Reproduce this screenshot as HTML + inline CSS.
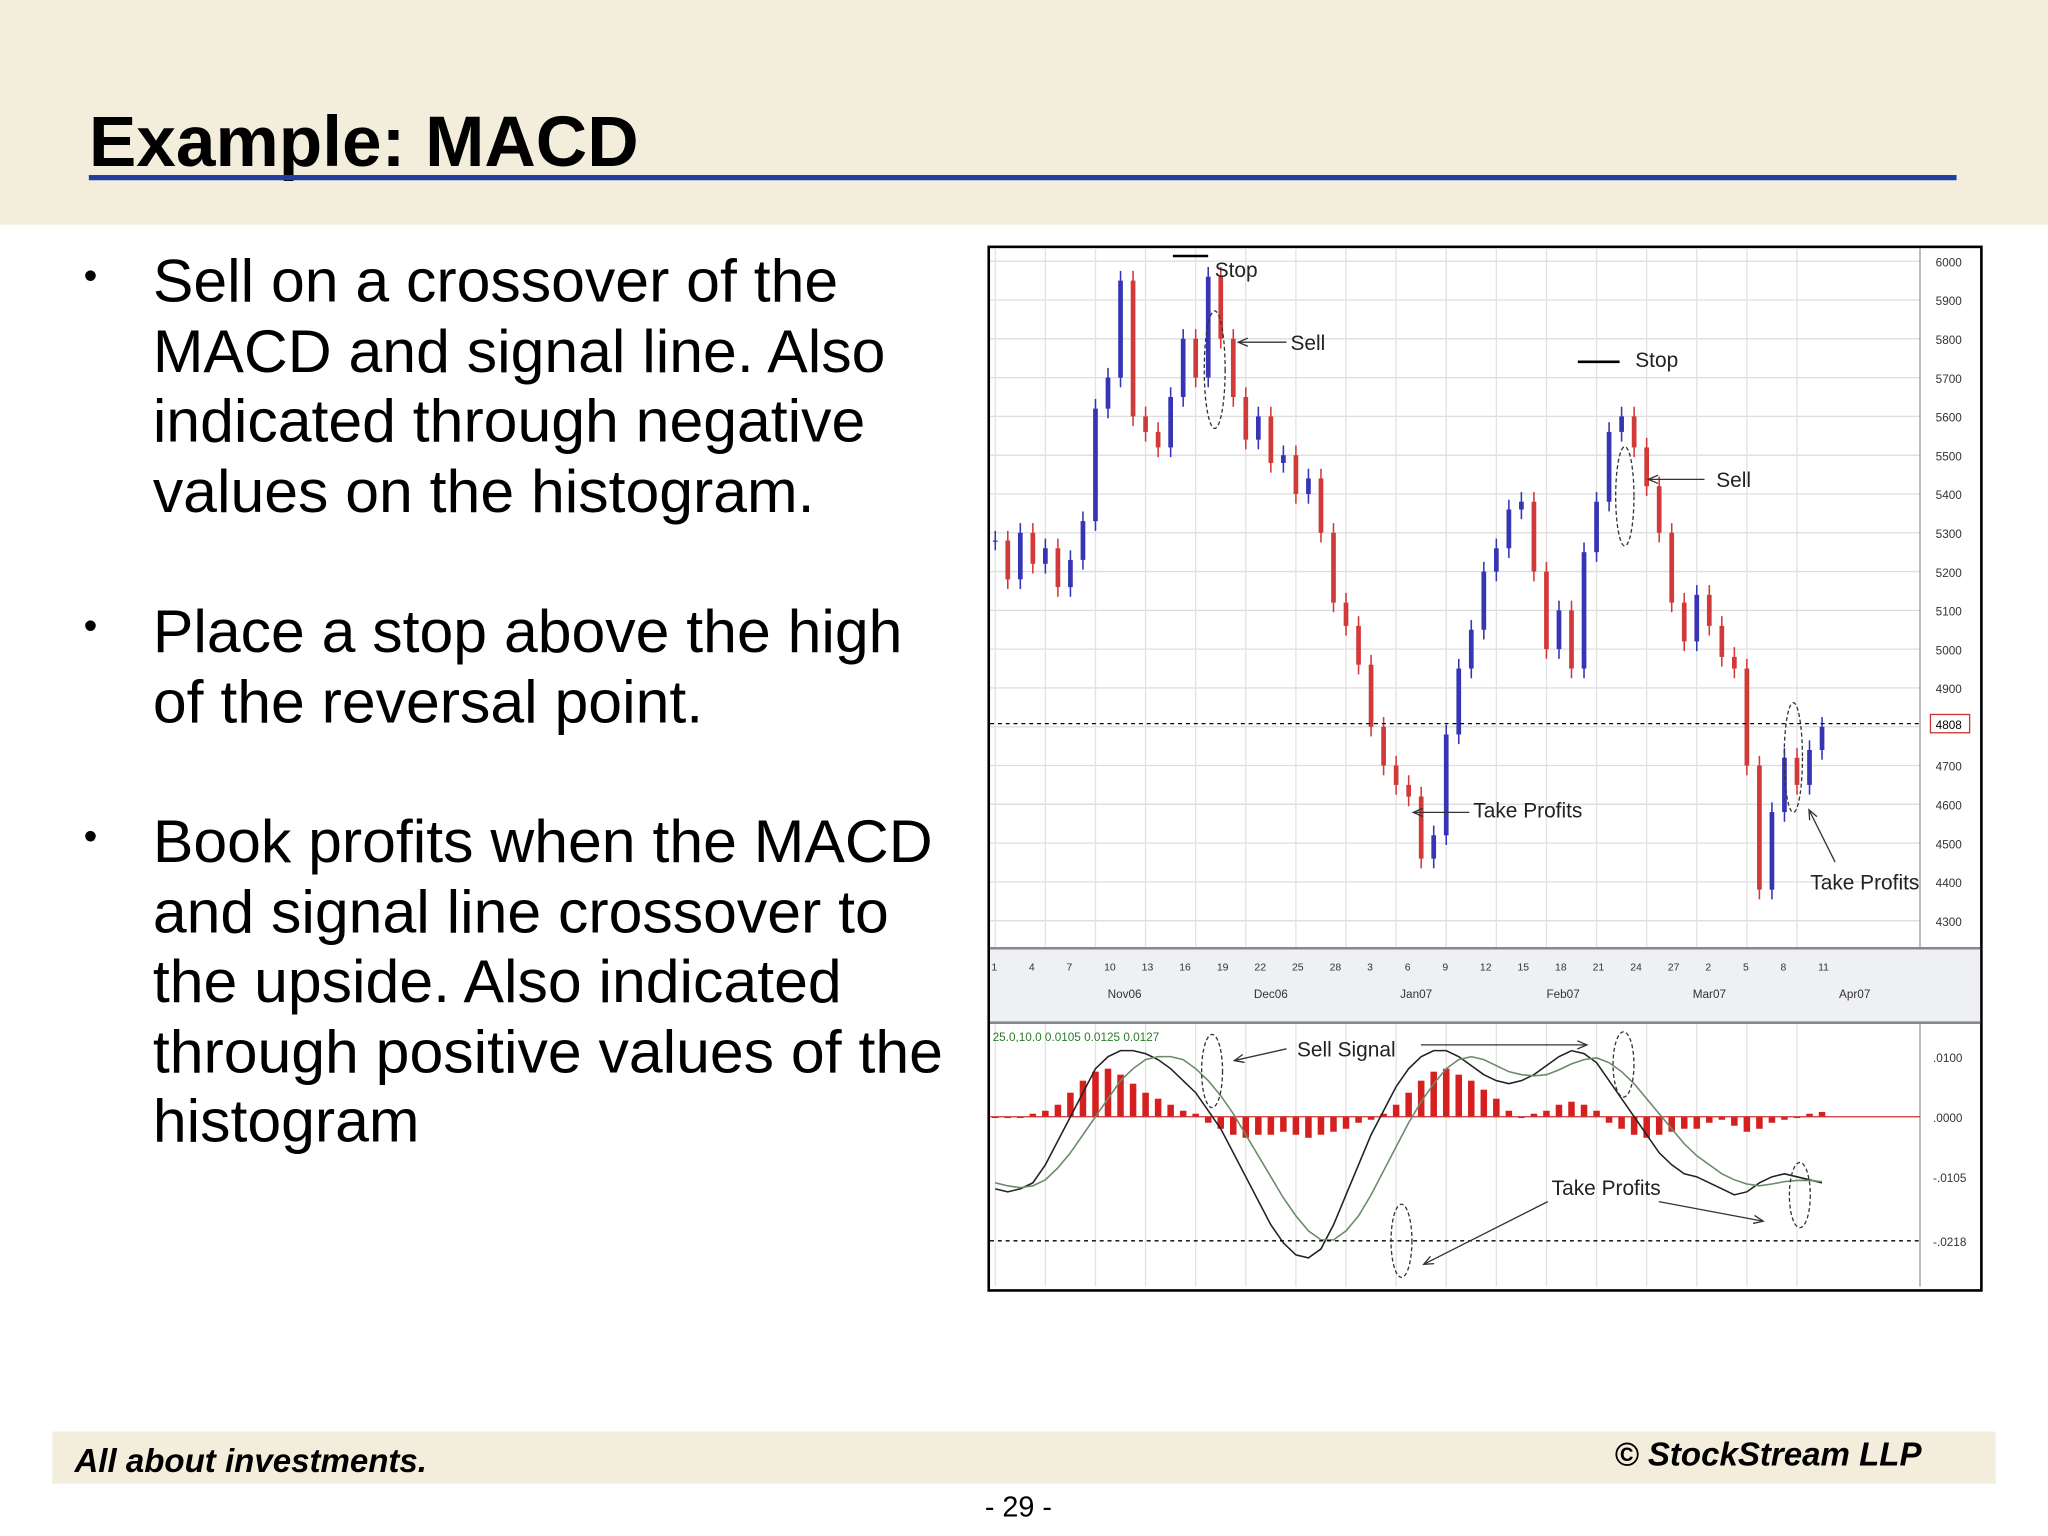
<!DOCTYPE html>
<html><head><meta charset="utf-8"><style>
html,body{margin:0;padding:0;background:#fff;}
#wrap{width:1568px;height:1176px;transform:scale(1.306122);transform-origin:0 0;position:relative;overflow:hidden;font-family:"Liberation Sans",sans-serif;background:#fff;}
.band{position:absolute;background:#f3eedc;}
.t{position:absolute;white-space:nowrap;color:#000;}
.bul{position:absolute;left:117px;font-size:46.5px;line-height:53.5px;white-space:nowrap;}
.dot{position:absolute;left:64px;font-size:30px;}
</style></head><body>
<div id="wrap">
<div class="band" style="left:0;top:0;width:1568px;height:172px"></div>
<div class="t" style="left:68px;top:82px;font-size:54.5px;font-weight:bold;line-height:54px">Example: MACD</div>
<div style="position:absolute;left:68px;top:134px;width:1430px;height:4px;background:#1f3fa0"></div>

<div class="dot t" style="top:195px">•</div>
<div class="bul" style="top:189px">Sell on a crossover of the<br>MACD and signal line. Also<br>indicated through negative<br>values on the histogram.</div>
<div class="dot t" style="top:463px">•</div>
<div class="bul" style="top:457px">Place a stop above the high<br>of the reversal point.</div>
<div class="dot t" style="top:624px">•</div>
<div class="bul" style="top:618px">Book profits when the MACD<br>and signal line crossover to<br>the upside. Also indicated<br>through positive values of the<br>histogram</div>

<svg id="chart" style="position:absolute;left:0;top:0" width="1568" height="1176"></svg>

<div class="band" style="left:40px;top:1096px;width:1488px;height:40px"></div>
<div class="t" style="left:57px;top:1105px;font-size:25.3px;font-style:italic;font-weight:bold">All about investments.</div>
<div class="t" style="left:1236px;top:1100px;font-size:25.3px;font-style:italic;font-weight:bold">© StockStream LLP</div>
<div class="t" style="left:754px;top:1141px;font-size:22px">- 29 -</div>
</div>
<script>
const closes=[5280,5180,5300,5220,5260,5160,5230,5330,5620,5700,5950,5600,5560,5520,5650,5800,5700,5960,5800,5650,5540,5600,5480,5500,5400,5440,5300,5120,5060,4960,4800,4700,4650,4620,4460,4520,4780,4950,5050,5200,5260,5360,5380,5200,5000,5100,4950,5250,5380,5560,5600,5520,5420,5300,5120,5020,5140,5060,4980,4950,4700,4380,4580,4720,4650,4740,4800];
const hist=[0,0,0,5,10,20,40,60,75,80,70,55,40,30,20,10,5,-10,-20,-30,-35,-30,-30,-25,-30,-35,-30,-25,-20,-10,-5,5,20,40,60,75,80,70,60,45,30,10,0,5,10,20,25,20,10,-10,-20,-30,-35,-30,-25,-20,-20,-10,-5,-15,-25,-20,-10,-5,0,5,8];
const macd=[-120,-125,-120,-110,-80,-40,0,40,80,100,110,110,105,95,80,60,40,10,-20,-60,-100,-140,-180,-210,-230,-235,-220,-180,-130,-80,-30,10,50,80,100,110,110,100,85,70,60,55,60,70,85,100,110,105,90,60,30,0,-30,-60,-80,-95,-100,-110,-120,-130,-125,-110,-100,-95,-100,-105,-110];
const signal=[-110,-115,-118,-115,-105,-85,-60,-30,0,30,60,80,95,100,100,95,80,60,35,5,-30,-65,-100,-135,-165,-190,-205,-205,-190,-165,-130,-90,-50,-10,25,55,80,95,100,95,85,75,70,68,70,78,88,95,98,90,75,55,30,5,-20,-45,-65,-80,-95,-105,-112,-115,-112,-108,-106,-106,-108];
const priceTicks=[6000,5900,5800,5700,5600,5500,5400,5300,5200,5100,5000,4900,4800,4700,4600,4500,4400,4300];
const dateLabels=["Nov06","Dec06","Jan07","Feb07","Mar07","Apr07"];
const macdTicks=[".0100",".0000","-.0105","-.0218"];
const NS="http://www.w3.org/2000/svg";
const svg=document.getElementById('chart');
function el(t,a,p){const e=document.createElementNS(NS,t);for(const k in a)e.setAttribute(k,a[k]);(p||svg).appendChild(e);return e;}
const X0=762,X1=1395;
const xs=i=>X0+i*(X1-X0)/(closes.length-1);
const yp=v=>200+(6000-v)*0.297;
const ym=v=>855-v*0.46;
let f=el('rect',{x:757,y:189,width:760,height:799,fill:'#fff',stroke:'#000','stroke-width':2});

for(const v of priceTicks){let g=el('line',{x1:758,x2:1470,y1:yp(v),y2:yp(v),stroke:'#ddd','stroke-width':1});

let t=el('text',{x:1482,y:yp(v)+4,'font-size':9,'font-family':'Liberation Sans',fill:'#333'});t.textContent=v;
}
for(let i=0;i<closes.length;i+=4){let g=el('line',{x1:xs(i),x2:xs(i),y1:190,y2:985,stroke:'#e2e2e2','stroke-width':1});
}
el('line',{x1:1470,x2:1470,y1:190,y2:985,stroke:'#999'});
el('rect',{x:758,y:726,width:758,height:56,fill:'#eef0f3'});
el('line',{x1:758,x2:1516,y1:726,y2:726,stroke:'#888','stroke-width':2});
el('line',{x1:758,x2:1516,y1:783,y2:783,stroke:'#888','stroke-width':2});
dateLabels.forEach((d,i)=>{let t=el('text',{x:848+i*112,y:764,'font-size':9,fill:'#333','font-family':'Liberation Sans'});t.textContent=d;
});
for(let i=0;i<closes.length;i+=3){let t=el('text',{x:xs(i)-3,y:743,'font-size':8,fill:'#333'});t.textContent=(i%28)+1;}
closes.forEach((c,i)=>{const o=i?closes[i-1]:c;const hi=Math.max(o,c)+25,lo=Math.min(o,c)-25;
const col=c>=o?'#3535b5':'#d23a3a';const x=xs(i);
let w=el('line',{x1:x,x2:x,y1:yp(hi),y2:yp(lo),stroke:col,'stroke-width':1.2});

let b=el('rect',{x:x-1.8,y:yp(Math.max(o,c)),width:3.6,height:Math.max(1,Math.abs(yp(o)-yp(c))),fill:col});
});
el('line',{x1:758,x2:1470,y1:yp(4808),y2:yp(4808),stroke:'#000','stroke-dasharray':'3,3'});
el('rect',{x:1478,y:yp(4808)-7,width:30,height:14,fill:'#fff',stroke:'#c33'});
let lt=el('text',{x:1482,y:yp(4808)+4,'font-size':9});lt.textContent='4808';
macdTicks.forEach((m,i)=>{const y=[809,855,901,950][i];let t=el('text',{x:1480,y:y+4,'font-size':9,fill:'#333'});t.textContent=m;
});
hist.forEach((h,i)=>{const x=xs(i);const y0=ym(0),y1=ym(h);
let r=el('rect',{x:x-2.5,y:Math.min(y0,y1),width:5,height:Math.max(1,Math.abs(y1-y0)),fill:'#d62020'});
});
el('line',{x1:758,x2:1470,y1:ym(0),y2:ym(0),stroke:'#c33','stroke-width':1});
let pm=el('polyline',{points:macd.map((v,i)=>xs(i)+','+ym(v)).join(' '),fill:'none',stroke:'#222','stroke-width':1.2});

let ps=el('polyline',{points:signal.map((v,i)=>xs(i)+','+ym(v)).join(' '),fill:'none',stroke:'#6a8a6a','stroke-width':1.2});

el('line',{x1:758,x2:1470,y1:950,y2:950,stroke:'#000','stroke-dasharray':'3,3'});
let hdr=el('text',{x:760,y:797,'font-size':9,fill:'#2a7a2a'});hdr.textContent='25.0,10.0 0.0105 0.0125 0.0127';
function txt(x,y,s,n){let t=el('text',{x:x,y:y,'font-size':16,'font-family':'Liberation Sans Narrow, Liberation Sans',fill:'#222'});t.textContent=s;
}
function ell(x,y,rx,ry){let e=el('ellipse',{cx:x,cy:y,rx:rx,ry:ry,fill:'none',stroke:'#333','stroke-dasharray':'3,2'});
}
function arr(x1,y1,x2,y2){el('line',{x1:x1,y1:y1,x2:x2,y2:y2,stroke:'#333'});const a=Math.atan2(y2-y1,x2-x1);
el('polyline',{points:`${x2-8*Math.cos(a-0.4)},${y2-8*Math.sin(a-0.4)} ${x2},${y2} ${x2-8*Math.cos(a+0.4)},${y2-8*Math.sin(a+0.4)}`,fill:'none',stroke:'#333'});}
el('line',{x1:898,x2:925,y1:196,y2:196,stroke:'#000','stroke-width':2});txt(930,212,'Stop','stop-label-1');
ell(930,283,8,45);arr(985,262,948,262);txt(988,268,'Sell','sell-label-1');
el('line',{x1:1208,x2:1240,y1:277,y2:277,stroke:'#000','stroke-width':2});txt(1252,281,'Stop','stop-label-2');
ell(1244,380,7,38);arr(1305,367,1262,367);txt(1314,373,'Sell','sell-label-2');
arr(1125,622,1082,622);txt(1128,626,'Take Profits','take-profits-label-1');
ell(1373,580,7,42);arr(1405,660,1385,620);txt(1386,681,'Take Profits','take-profits-label-2');
ell(928,820,8,28);arr(985,803,945,812);txt(993,809,'Sell Signal','sell-signal-label');
arr(1088,800,1215,800);ell(1243,815,8,25);ell(1073,950,8,28);ell(1378,915,8,25);
txt(1188,915,'Take Profits','take-profits-label-3');arr(1185,920,1090,968);arr(1270,920,1350,935);
</script>
</body></html>
